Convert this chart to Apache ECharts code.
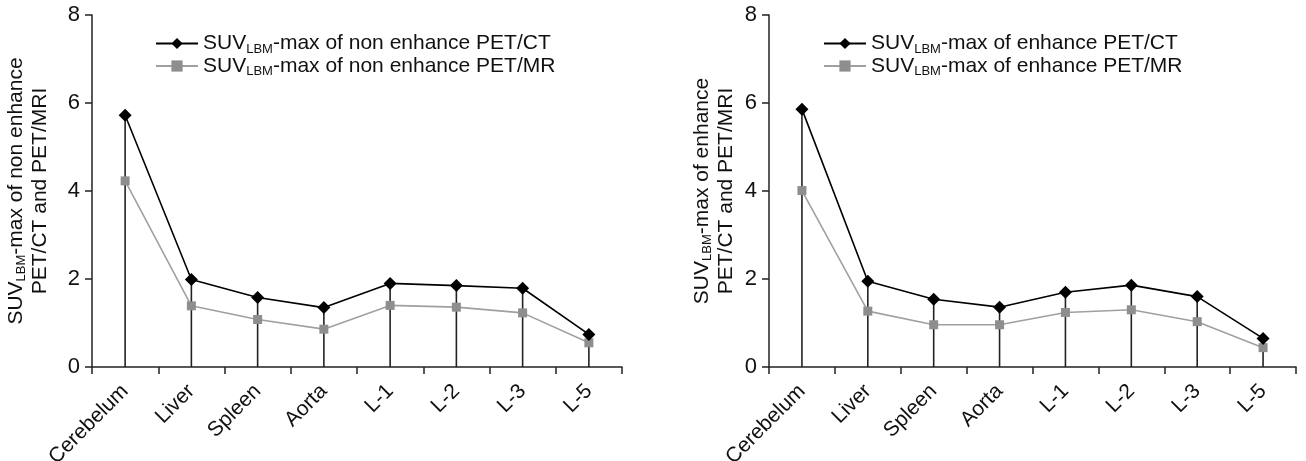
<!DOCTYPE html>
<html>
<head>
<meta charset="utf-8">
<script src="https://cdn.jsdelivr.net/npm/echarts@6/dist/echarts.min.js"></script>
<style>
html,body{margin:0;padding:0;background:#fff;}
#main{width:1306px;height:461px;}
</style>
</head>
<body>
<div id="main"></div>
<script>
const categories = ['Cerebelum', 'Liver', 'Spleen', 'Aorta', 'L-1', 'L-2', 'L-3', 'L-5'];
const yTicks = [0, 2, 4, 6, 8];

// Left panel: non enhance
const nonEnhanceCT = [5.72, 1.99, 1.58, 1.35, 1.90, 1.85, 1.79, 0.74];
const nonEnhanceMR = [4.23, 1.39, 1.08, 0.86, 1.40, 1.36, 1.23, 0.55];
// Right panel: enhance
const enhanceCT = [5.86, 1.95, 1.54, 1.36, 1.70, 1.86, 1.60, 0.65];
const enhanceMR = [4.01, 1.27, 0.96, 0.96, 1.24, 1.30, 1.03, 0.44];

const FONT = 'Liberation Sans, Arial, sans-serif';
const FS = 21;

const nameCT1 = 'SUV-max of non enhance PET/CT';
const nameMR1 = 'SUV-max of non enhance PET/MR';
const nameCT2 = 'SUV-max of enhance PET/CT';
const nameMR2 = 'SUV-max of enhance PET/MR';

const rich = {
  a: { fontSize: FS, fontFamily: FONT, color: '#111', lineHeight: 24 },
  sub: { fontSize: 13, fontFamily: FONT, color: '#111', lineHeight: 12, verticalAlign: 'bottom' }
};
function subLabel(name) {
  return '{a|SUV}{sub|LBM}{a|' + name.slice(3) + '}';
}

function makeGrid(left, width) {
  return { left: left, top: 15, width: width, height: 352, containLabel: false, outerBoundsMode: 'none' };
}
function makeX(idx) {
  return {
    type: 'category', gridIndex: idx, data: categories, boundaryGap: true,
    axisLine: { lineStyle: { color: '#222', width: 1.5 } },
    axisTick: { show: true, length: 7, alignWithLabel: false, lineStyle: { color: '#222', width: 1.5 } },
    axisLabel: { interval: 0, rotate: 45, margin: 21, fontSize: FS, fontFamily: FONT, color: '#111' }
  };
}
function makeY(idx, title1, gap) {
  return {
    type: 'value', gridIndex: idx, min: yTicks[0], max: yTicks[yTicks.length - 1], interval: yTicks[1] - yTicks[0],
    splitLine: { show: false },
    axisLine: { show: true, lineStyle: { color: '#222', width: 1.5 } },
    axisTick: { show: true, length: 7, lineStyle: { color: '#222', width: 1.5 } },
    axisLabel: { margin: 12, fontSize: 22, fontFamily: FONT, color: '#111' },
    name: '{a|SUV}{sub|LBM}{a|' + title1 + '}\n{a|PET/CT and PET/MRI}',
    nameLocation: 'middle', nameRotate: 90, nameGap: gap,
    nameTextStyle: { rich: rich }
  };
}
function makeLegend(left, names) {
  return {
    orient: 'vertical', left: left, top: 28, itemWidth: 42, itemHeight: 14, itemGap: 0,
    data: names,
    formatter: subLabel,
    textStyle: { rich: rich }
  };
}
function dropSeries(idx, data) {
  return {
    type: 'bar', xAxisIndex: idx, yAxisIndex: idx, data: data, barWidth: 1.6,
    itemStyle: { color: '#222' }, silent: true, z: 1
  };
}
function ctSeries(idx, name, data) {
  return {
    type: 'line', name: name, xAxisIndex: idx, yAxisIndex: idx, data: data,
    symbol: 'diamond', symbolSize: 13,
    lineStyle: { color: '#000', width: 1.6 }, itemStyle: { color: '#000' }, z: 4
  };
}
function mrSeries(idx, name, data) {
  return {
    type: 'line', name: name, xAxisIndex: idx, yAxisIndex: idx, data: data,
    symbol: 'rect', symbolSize: 9,
    lineStyle: { color: '#a0a0a0', width: 1.6 }, itemStyle: { color: '#8e8e8e' }, z: 3
  };
}

const chart = echarts.init(document.getElementById('main'), null, { renderer: 'canvas' });
chart.setOption({
  animation: false,
  backgroundColor: '#fff',
  grid: [makeGrid(92, 530), makeGrid(769, 527)],
  xAxis: [makeX(0), makeX(1)],
  yAxis: [makeY(0, '-max of non enhance', 40), makeY(1, '-max of enhance', 31)],
  legend: [makeLegend(150, [nameCT1, nameMR1]), makeLegend(818, [nameCT2, nameMR2])],
  series: [
    dropSeries(0, nonEnhanceCT), ctSeries(0, nameCT1, nonEnhanceCT), mrSeries(0, nameMR1, nonEnhanceMR),
    dropSeries(1, enhanceCT), ctSeries(1, nameCT2, enhanceCT), mrSeries(1, nameMR2, enhanceMR)
  ]
});
</script>
</body>
</html>
